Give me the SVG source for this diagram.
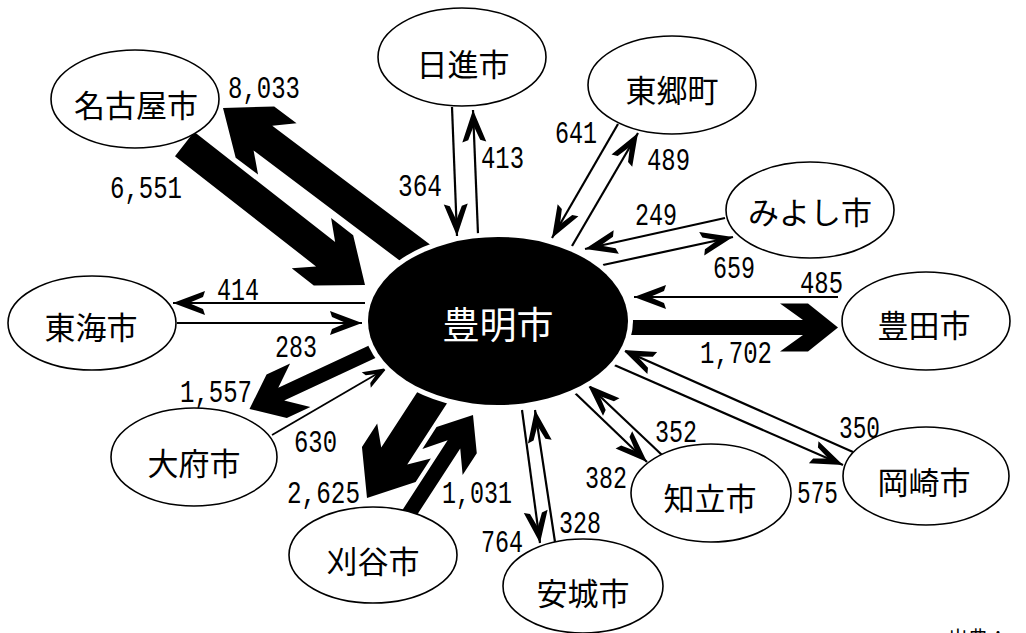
<svg xmlns="http://www.w3.org/2000/svg" width="1026" height="633" viewBox="0 0 1026 633">
<defs>
<style>
.n ellipse{fill:#fff;stroke:#000;stroke-width:1.6}
.jp{font-family:"Noto Sans CJK JP","Noto Sans CJK SC",sans-serif;font-size:31px;text-anchor:middle;dominant-baseline:central;fill:#000}
.num{font-family:"Liberation Mono",monospace;font-size:31px;fill:#000}
.t{fill:none;stroke:#000;stroke-width:2.2;marker-end:url(#ah)}
.t2{fill:none;stroke:#000;stroke-width:1.8;marker-end:url(#ah2)}
.blk{fill:#000}
</style>
<marker id="ah" markerUnits="userSpaceOnUse" viewBox="-36 -16 40 32" markerWidth="40" markerHeight="32" refX="0" refY="0" orient="auto" overflow="visible"><path d="M0,0 L-32,-12 L-30,-6 L-16,0 L-30,6 L-32,12 Z" fill="#000"/></marker>
<marker id="ah2" markerUnits="userSpaceOnUse" viewBox="-28 -12 32 24" markerWidth="32" markerHeight="24" refX="0" refY="0" orient="auto" overflow="visible"><path d="M0,0 L-24,-9 L-22,-4.5 L-12,0 L-22,4.5 L-24,9 Z" fill="#000"/></marker>
</defs>
<rect width="1026" height="633" fill="#fff"/>
<g id="connectors">
<!-- thick block arrows -->
<path class="blk" transform="translate(365,285) rotate(38)" d="M-229,-15.5 H-50 L-68,-32 H-40 L0,0 L-40,32 H-68 L-50,15.5 H-229 Z"/>
<path class="blk" transform="translate(223,108) rotate(217)" d="M-260,-15.5 H-50 L-68,-32 H-40 L0,0 L-40,32 H-68 L-50,15.5 H-260 Z"/>
<path class="blk" transform="translate(838,327.5)" d="M-240,-7.5 H-35 L-58,-24 H-30 L0,0 L-30,24 H-58 L-35,7.5 H-240 Z"/>
<path class="blk" transform="translate(249.5,409) rotate(155)" d="M-160,-7 H-35 L-56,-24 H-30 L0,0 L-30,24 H-56 L-35,7 H-160 Z"/>
<path class="blk" transform="translate(367,498) rotate(123)" d="M-150,-15.5 H-50 L-68,-32 H-40 L0,0 L-40,32 H-68 L-50,15.5 H-150 Z"/>
<path class="blk" transform="translate(473,415) rotate(-57)" d="M-118,-7.5 H-35 L-56,-24 H-30 L0,0 L-30,24 H-56 L-35,7.5 H-118 Z"/>
<!-- thin arrows -->
<path class="t" d="M452,107 L457,236"/>
<path class="t" d="M478,234 L473,110"/>
<path class="t" d="M618,124 L552,238"/>
<path class="t" d="M572,246 L638,133"/>
<path class="t" d="M725,218 L585,249"/>
<path class="t" d="M603,265 L733,237"/>
<path class="t" d="M838,297 L634,297"/>
<path class="t" d="M853,452 L623,350"/>
<path class="t" d="M612,364 L843,465"/>
<path class="t" d="M662,455 L588,385"/>
<path class="t" d="M575,393 L647,462"/>
<path class="t" d="M555,542 L535,410"/>
<path class="t" d="M522,410 L540,543"/>
<path class="t2" d="M272,435 L387,368"/>
<path class="t" d="M365,303 L173,303"/>
<path class="t" d="M177,323 L362,323"/>
</g>
<g id="labels">
<text class="num" x="228" y="98" textLength="72" lengthAdjust="spacingAndGlyphs">8,033</text>
<text class="num" x="110" y="198" textLength="72" lengthAdjust="spacingAndGlyphs">6,551</text>
<text class="num" x="398" y="196" textLength="44" lengthAdjust="spacingAndGlyphs">364</text>
<text class="num" x="481" y="168" textLength="43" lengthAdjust="spacingAndGlyphs">413</text>
<text class="num" x="555" y="143" textLength="42" lengthAdjust="spacingAndGlyphs">641</text>
<text class="num" x="647" y="170" textLength="43" lengthAdjust="spacingAndGlyphs">489</text>
<text class="num" x="635" y="225" textLength="42" lengthAdjust="spacingAndGlyphs">249</text>
<text class="num" x="713" y="278" textLength="42" lengthAdjust="spacingAndGlyphs">659</text>
<text class="num" x="800" y="293" textLength="43" lengthAdjust="spacingAndGlyphs">485</text>
<text class="num" x="700" y="363" textLength="72" lengthAdjust="spacingAndGlyphs">1,702</text>
<text class="num" x="839" y="438" textLength="41" lengthAdjust="spacingAndGlyphs">350</text>
<text class="num" x="797" y="503" textLength="41" lengthAdjust="spacingAndGlyphs">575</text>
<text class="num" x="655" y="442" textLength="42" lengthAdjust="spacingAndGlyphs">352</text>
<text class="num" x="585" y="488" textLength="42" lengthAdjust="spacingAndGlyphs">382</text>
<text class="num" x="559" y="533" textLength="42" lengthAdjust="spacingAndGlyphs">328</text>
<text class="num" x="481" y="552" textLength="42" lengthAdjust="spacingAndGlyphs">764</text>
<text class="num" x="442" y="503" textLength="70" lengthAdjust="spacingAndGlyphs">1,031</text>
<text class="num" x="287" y="503" textLength="73" lengthAdjust="spacingAndGlyphs">2,625</text>
<text class="num" x="294" y="452" textLength="43" lengthAdjust="spacingAndGlyphs">630</text>
<text class="num" x="180" y="402" textLength="72" lengthAdjust="spacingAndGlyphs">1,557</text>
<text class="num" x="275" y="357" textLength="42" lengthAdjust="spacingAndGlyphs">283</text>
<text class="num" x="217" y="300" textLength="42" lengthAdjust="spacingAndGlyphs">414</text>
</g>
<g id="node-toyoake">
<ellipse cx="498" cy="321" rx="135" ry="89" fill="#fff"/>
<ellipse cx="498" cy="321" rx="130" ry="84" fill="#000"/>
<text class="jp" x="498" y="323" style="font-size:37px;fill:#fff">豊明市</text>
</g>
<g id="node-nagoya" class="n"><ellipse cx="135" cy="99" rx="84" ry="49"/><text class="jp" x="136" y="103">名古屋市</text></g>
<g id="node-nisshin" class="n"><ellipse cx="462" cy="57" rx="84" ry="49"/><text class="jp" x="463" y="62">日進市</text></g>
<g id="node-togo" class="n"><ellipse cx="672" cy="85" rx="84" ry="49"/><text class="jp" x="672" y="88">東郷町</text></g>
<g id="node-miyoshi" class="n"><ellipse cx="810" cy="210" rx="84" ry="48"/><text class="jp" x="810" y="210">みよし市</text></g>
<g id="node-toyota" class="n"><ellipse cx="926" cy="321" rx="84" ry="49"/><text class="jp" x="924" y="323">豊田市</text></g>
<g id="node-okazaki" class="n"><ellipse cx="926" cy="476" rx="83" ry="49"/><text class="jp" x="924" y="480">岡崎市</text></g>
<g id="node-chiryu" class="n"><ellipse cx="711" cy="493" rx="80" ry="49"/><text class="jp" x="710" y="496">知立市</text></g>
<g id="node-anjo" class="n"><ellipse cx="583" cy="586" rx="80" ry="47"/><text class="jp" x="583" y="591">安城市</text></g>
<g id="node-kariya" class="n"><ellipse cx="373" cy="555" rx="84" ry="48"/><text class="jp" x="373" y="559">刈谷市</text></g>
<g id="node-obu" class="n"><ellipse cx="194" cy="457" rx="83" ry="49"/><text class="jp" x="194" y="461">大府市</text></g>
<g id="node-tokai" class="n"><ellipse cx="92" cy="323" rx="84" ry="47"/><text class="jp" x="91" y="325">東海市</text></g>
<text x="948" y="646" style="font-family:'Noto Sans CJK JP',sans-serif;font-size:20px;fill:#000">出典：</text>
</svg>
